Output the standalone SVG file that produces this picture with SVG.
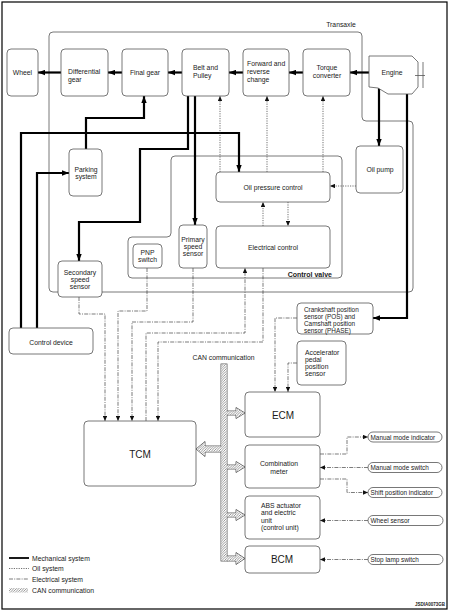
<svg xmlns="http://www.w3.org/2000/svg" width="452" height="615" viewBox="0 0 452 615">
<defs>
<style>
text{font-family:"Liberation Sans",Arial,sans-serif;font-size:6.8px;fill:#1a1a1a}
.c{text-anchor:middle}
.sm{font-size:6.4px}
.big{font-size:10px}
.bx{fill:#fff;stroke:#555;stroke-width:0.8}
.mech{fill:none;stroke:#000;stroke-width:2.2}
.oil{fill:none;stroke:#333;stroke-width:0.7;stroke-dasharray:1.2,1.2}
.ele{fill:none;stroke:#444;stroke-width:0.7;stroke-dasharray:4,1.2,1,1.2}
.thin{fill:none;stroke:#555;stroke-width:0.8}
.canS{fill:#fff;stroke:#444;stroke-width:0.8}
.canF{fill:url(#hatch);stroke:none}
</style>
<pattern id="hatch" patternUnits="userSpaceOnUse" width="2.5" height="2.5">
<rect width="2.5" height="2.5" fill="#fff"/>
<path d="M-0.5,3 L3,-0.5 M-1,0.5 L0.5,-1 M2,3.5 L3.5,2" stroke="#555" stroke-width="0.6"/>
</pattern>
<marker id="am" markerUnits="userSpaceOnUse" markerWidth="7" markerHeight="6" refX="7" refY="3" orient="auto"><path d="M0,0.3 L7,3 L0,5.7 z" fill="#000"/></marker>
<marker id="at" markerUnits="userSpaceOnUse" markerWidth="5" markerHeight="4.4" refX="5" refY="2.2" orient="auto"><path d="M0,0 L5,2.2 L0,4.4 z" fill="#111"/></marker>
</defs>

<rect x="2" y="2" width="445" height="607" fill="#fff" stroke="#000" stroke-width="1.2"/>

<g id="transaxle">
<path class="thin" d="M53,32 H358 Q362,32 362,36 V117 Q362,121 366,121 H409 Q413,121 413,125 V288 Q413,292 409,292 H53 Q49,292 49,288 V36 Q49,32 53,32 Z"/>
<text x="341" y="27" class="c">Transaxle</text>
</g>

<g id="control-valve">
<path class="thin" d="M175,156 H338 Q342,156 342,160 V274 Q342,278 338,278 H132 Q128,278 128,274 V241 Q128,237 132,237 H167 Q171,237 171,233 V160 Q171,156 175,156 Z"/>
<text x="332" y="276.5" text-anchor="end" font-weight="bold" style="font-size:7px">Control valve</text>
</g>

<g id="connectors">
<path class="mech" d="M369,72.5 H350" marker-end="url(#am)"/>
<path class="mech" d="M303,72.5 H289" marker-end="url(#am)"/>
<path class="mech" d="M243,72.5 H229" marker-end="url(#am)"/>
<path class="mech" d="M182,72.5 H168" marker-end="url(#am)"/>
<path class="mech" d="M122,72.5 H108" marker-end="url(#am)"/>
<path class="mech" d="M61,72.5 H38" marker-end="url(#am)"/>
<path class="mech" d="M379,88 V146" marker-end="url(#am)"/>
<path class="mech" d="M407,94 V318 H373" marker-end="url(#am)"/>
<path class="mech" d="M188,96 V149 H140 V222 H79 V261" marker-end="url(#am)"/>
<path class="mech" d="M195,96 V225" marker-end="url(#am)"/>
<path class="mech" d="M21,328 V133 H239 V172" marker-end="url(#am)"/>
<path class="mech" d="M37,328 V173 H69" marker-end="url(#am)"/>
<path class="mech" d="M86,149 V118 H144 V96" marker-end="url(#am)"/>
<path class="oil" d="M220,172 V96" marker-end="url(#at)"/>
<path class="oil" d="M267,172 V96" marker-end="url(#at)"/>
<path class="oil" d="M323,172 V96" marker-end="url(#at)"/>
<path class="oil" d="M356,186 H330" marker-end="url(#at)"/>
<path class="oil" d="M263,226 V202" marker-end="url(#at)"/>
<path class="oil" d="M288,202 V226" marker-end="url(#at)"/>
<path class="ele" d="M79,297 V314 H105 V421" marker-end="url(#at)"/>
<path class="ele" d="M147,268 V311 H118 V421" marker-end="url(#at)"/>
<path class="ele" d="M193,268 V322 H132 V421" marker-end="url(#at)"/>
<path class="ele" d="M146,421 V333 H245 V268" marker-end="url(#at)"/>
<path class="ele" d="M263,268 V342 H158 V421" marker-end="url(#at)"/>
<path class="ele" d="M297,318 H275 V392" marker-end="url(#at)"/>
<path class="ele" d="M297,363 H288 V392" marker-end="url(#at)"/>
<path class="ele" d="M320,454 H347 V437 H368" marker-end="url(#at)"/>
<path class="ele" d="M368,467.5 H320" marker-end="url(#at)"/>
<path class="ele" d="M320,479 H347 V492.5 H368" marker-end="url(#at)"/>
<path class="ele" d="M368,520.5 H320" marker-end="url(#at)"/>
<path class="ele" d="M368,559.5 H320" marker-end="url(#at)"/>
</g>

<g id="can-bus">
<g class="canS">
<rect x="221" y="364" width="6" height="197"/>
<polygon points="227,411 236,411 236,407.5 245,413 236,418.5 236,415 227,415"/>
<polygon points="227,465 236,465 236,461.5 245,467 236,472.5 236,469 227,469"/>
<polygon points="227,513 236,513 236,509.5 245,515 236,520.5 236,517 227,517"/>
<polygon points="227,556 236,556 236,552.5 245,558.5 236,564.5 236,561 227,561"/>
<polygon points="221,446 205,446 205,441.5 196,449 205,456.5 205,452 221,452"/>
</g>
<g class="canF">
<rect x="221.4" y="364.4" width="5.2" height="196.2"/>
<polygon points="226,411.4 236.4,411.4 236.4,408.3 244.1,413 236.4,417.7 236.4,414.6 226,414.6"/>
<polygon points="226,465.4 236.4,465.4 236.4,462.3 244.1,467 236.4,471.7 236.4,468.6 226,468.6"/>
<polygon points="226,513.4 236.4,513.4 236.4,510.3 244.1,515 236.4,519.7 236.4,516.6 226,516.6"/>
<polygon points="226,556.4 236.4,556.4 236.4,553.3 244.1,558.5 236.4,563.7 236.4,560.6 226,560.6"/>
<polygon points="222,446.4 204.6,446.4 204.6,442.4 196.9,449 204.6,455.6 204.6,451.6 222,451.6"/>
</g>
<text x="223.5" y="359.5" class="c">CAN communication</text>
</g>

<g id="wheel"><rect class="bx" x="7" y="49" width="31" height="47" rx="4"/><text x="22.5" y="74.5" class="c">Wheel</text></g>
<g id="differential-gear"><rect class="bx" x="61" y="49" width="47" height="47" rx="4"/><text x="68" y="73.5">Differential</text><text x="68" y="81.5">gear</text></g>
<g id="final-gear"><rect class="bx" x="122" y="49" width="46" height="47" rx="4"/><text x="145" y="74.5" class="c">Final gear</text></g>
<g id="belt-pulley"><rect class="bx" x="182" y="49" width="47" height="47" rx="4"/><text x="193" y="69.5">Belt and</text><text x="193" y="77.5">Pulley</text></g>
<g id="forward-reverse"><rect class="bx" x="243" y="49" width="46" height="47" rx="4"/><text x="247" y="65.5">Forward and</text><text x="247" y="73.5">reverse</text><text x="247" y="81.5">change</text></g>
<g id="torque-converter"><rect class="bx" x="303" y="49" width="47" height="47" rx="4"/><text x="327" y="69.5" class="c">Torque</text><text x="327" y="77.5" class="c">converter</text></g>
<g id="engine">
<polygon class="bx" points="369,56 412,56 418,62 418,87 412,94 388,94 378,88 369,87"/>
<path class="thin" d="M423,62 V88 M415,75.5 H425"/>
<text x="392" y="74.5" class="c">Engine</text>
</g>
<g id="oil-pump"><rect class="bx" x="356" y="146" width="47" height="47" rx="4"/><text x="380" y="171.5" class="c">Oil pump</text></g>
<g id="parking-system"><rect class="bx" x="69" y="149" width="33" height="47" rx="4"/><text x="86" y="171.5" class="c">Parking</text><text x="86" y="178.5" class="c">system</text></g>
<g id="oil-pressure-control"><rect class="bx" x="216" y="172" width="114" height="30" rx="4"/><text x="273" y="189.5" class="c">Oil pressure control</text></g>
<g id="electrical-control"><rect class="bx" x="216" y="226" width="114" height="42" rx="4"/><text x="273" y="249.5" class="c">Electrical control</text></g>
<g id="primary-speed-sensor"><rect class="bx" x="179" y="225" width="28" height="43" rx="4"/><text x="193" y="241.5" class="c">Primary</text><text x="193" y="248.5" class="c">speed</text><text x="193" y="255.5" class="c">sensor</text></g>
<g id="pnp-switch"><rect class="bx" x="133" y="244" width="29" height="24" rx="4"/><text x="147.5" y="254.5" class="c">PNP</text><text x="147.5" y="261.5" class="c">switch</text></g>
<g id="secondary-speed-sensor"><rect class="bx" x="58" y="261" width="44" height="36" rx="4"/><text x="80" y="274.5" class="c">Secondary</text><text x="80" y="281.5" class="c">speed</text><text x="80" y="288.5" class="c">sensor</text></g>
<g id="control-device"><rect class="bx" x="9" y="328" width="84" height="26" rx="4"/><text x="51" y="344.5" class="c">Control device</text></g>
<g id="crankshaft-sensor"><rect class="bx" x="297" y="303" width="76" height="31" rx="4"/><text class="sm" x="304" y="311.5">Crankshaft position</text><text class="sm" x="304" y="318.5">sensor (POS) and</text><text class="sm" x="304" y="325.5">Camshaft position</text><text class="sm" x="304" y="332.5">sensor (PHASE)</text></g>
<g id="accelerator-sensor"><rect class="bx" x="297" y="341" width="49" height="44" rx="4"/><text x="305" y="354.5">Accelerator</text><text x="305" y="361.5">pedal</text><text x="305" y="368.5">position</text><text x="305" y="375.5">sensor</text></g>
<g id="tcm"><rect class="bx" x="84" y="421" width="112" height="65" rx="4"/><text x="140" y="457.5" class="c big">TCM</text></g>
<g id="ecm"><rect class="bx" x="245" y="392" width="75" height="45" rx="4"/><text x="283" y="419" class="c big">ECM</text></g>
<g id="combination-meter"><rect class="bx" x="245" y="445" width="75" height="43" rx="4"/><text x="279" y="466" class="c">Combination</text><text x="279" y="473.5" class="c">meter</text></g>
<g id="abs"><rect class="bx" x="245" y="496" width="75" height="43" rx="4"/><text x="261" y="508">ABS actuator</text><text x="261" y="515">and electric</text><text x="261" y="522.5">unit</text><text x="261" y="529.5">(control unit)</text></g>
<g id="bcm"><rect class="bx" x="245" y="546" width="75" height="27" rx="4"/><text x="282" y="562.5" class="c big">BCM</text></g>
<g id="manual-mode-indicator"><rect class="bx" x="368" y="432" width="74" height="10" rx="5"/><text class="sm" x="370.5" y="439.5">Manual mode indicator</text></g>
<g id="manual-mode-switch"><rect class="bx" x="368" y="462.5" width="74" height="10" rx="5"/><text class="sm" x="370.5" y="470">Manual mode switch</text></g>
<g id="shift-position-indicator"><rect class="bx" x="368" y="487.5" width="74" height="10" rx="5"/><text class="sm" x="370.5" y="495">Shift position indicator</text></g>
<g id="wheel-sensor"><rect class="bx" x="368" y="515.5" width="75" height="10" rx="5"/><text class="sm" x="370.5" y="523">Wheel sensor</text></g>
<g id="stop-lamp-switch"><rect class="bx" x="368" y="554.5" width="75" height="10" rx="5"/><text class="sm" x="370.5" y="562">Stop lamp switch</text></g>

<g id="legend">
<path class="mech" d="M9,558 H29" style="stroke-width:1.8"/>
<path class="oil" d="M9,568.5 H29"/>
<path class="ele" d="M9,579 H29"/>
<rect x="9" y="588" width="19" height="4.5" fill="url(#hatch)"/>
<text x="32" y="560.5">Mechanical system</text>
<text x="32" y="571">Oil system</text>
<text x="32" y="581.5">Electrical system</text>
<text x="32" y="592.5">CAN communication</text>
</g>
<text x="445" y="606" text-anchor="end" font-weight="bold" style="font-size:4.5px">JSDIA0073GB</text>
</svg>
